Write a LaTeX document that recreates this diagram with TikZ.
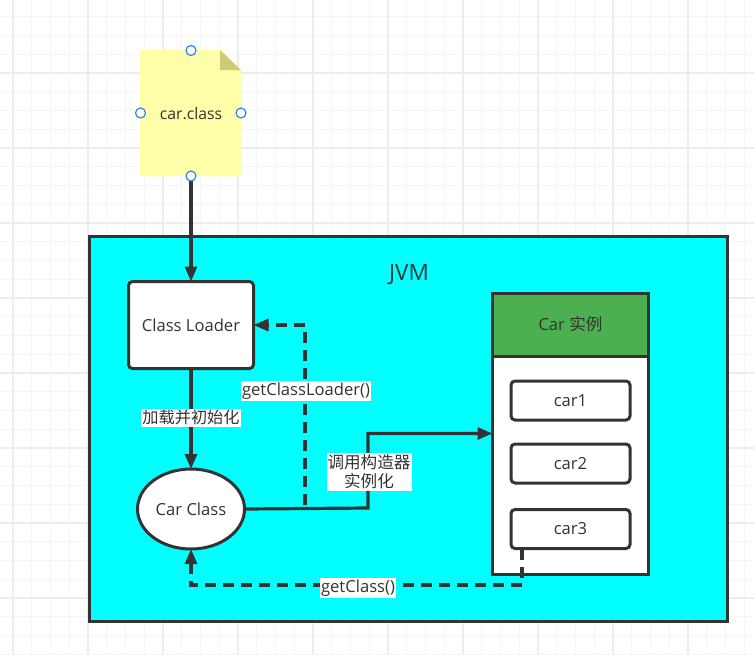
\documentclass[tikz,border=0pt]{standalone}
\usepackage{fontspec}
\setmainfont{Open Sans}
\newfontfamily\cjk{Noto Sans CJK SC}
\usetikzlibrary{arrows.meta,calc,shapes.geometric}
\definecolor{inkc}{HTML}{333333}
\definecolor{gridc}{HTML}{F5F5F5}
\definecolor{gridm}{HTML}{EDEDED}
\definecolor{notec}{HTML}{FFFFAA}
\definecolor{foldc}{HTML}{CCCC77}
\definecolor{headc}{HTML}{4CAF50}
\definecolor{handc}{HTML}{2F86F0}
\definecolor{jvmc}{HTML}{00FFFF}
\tikzset{
 x=1pt,y=-1pt,
 every node/.style={font=\fontsize{16.6}{19}\selectfont,text=inkc,inner sep=0pt,outer sep=0pt},
 solidbox/.style={draw=inkc,line width=3pt,fill=white,rounded corners=4pt,minimum width=#1},
 conn/.style={draw=inkc,line width=3.2pt,-{Triangle[length=15pt,width=12pt]}},
 dashconn/.style={conn,dash pattern=on 11pt off 7pt},
 lab/.style={fill=white,inner xsep=1pt,inner ysep=1.5pt,align=center},
 handle/.style={circle,draw=handc,line width=1.2pt,fill=white,minimum size=10pt},
}
\begin{document}
\begin{tikzpicture}
\useasboundingbox (0,0) rectangle (754,654);
\fill[white] (0,0) rectangle (754,654);
% grid
\foreach \i in {-1,...,41}{
  \pgfmathsetmacro\gx{13+18.75*\i}
  \pgfmathsetmacro\gy{-2+18.75*\i}
  \draw[gridc,line width=1pt] (\gx,0) -- (\gx,654);
  \draw[gridc,line width=1pt] (0,\gy) -- (754,\gy);
}
\foreach \i in {0,...,10}{
  \pgfmathsetmacro\gx{13+75*\i}
  \pgfmathsetmacro\gy{-2+75*\i}
  \draw[gridm,line width=1.4pt] (\gx,0) -- (\gx,654);
  \draw[gridm,line width=1.4pt] (0,\gy) -- (754,\gy);
}
% JVM
\node[draw=inkc,line width=3pt,fill=jvmc,minimum width=638pt,minimum height=385pt,anchor=north west] (jvm) at (89.5,236.5) {};
\node[font=\fontsize{22.5}{26}\selectfont] (jvmt) at (409,275) {JVM};
% note
\fill[notec] (140,50) -- (220,50) -- (241,70) -- (241,176) -- (140,176) -- cycle;
\fill[foldc] (220,50) -- (241,70) -- (220,70) -- cycle;
\coordinate (notes) at (191,176);
\node[font=\fontsize{15.8}{19}\selectfont] (note) at (191,113.5) {car.class};
% class loader, car class
\node[solidbox=125pt,minimum height=87pt] (cl) at (191,325) {Class Loader};
\node[draw=inkc,line width=3pt,fill=white,ellipse,minimum width=107pt,minimum height=80pt] (cc) at (191,509) {Car Class};
% instance list
\node[draw=inkc,line width=3pt,fill=white,minimum width=156pt,minimum height=281pt,anchor=north west] (list) at (492.5,293) {};
\node[draw=inkc,line width=3pt,fill=headc,minimum width=156pt,minimum height=63pt,anchor=north west] (head) at (492.5,293) {Car {\cjk 实例}};
\node[solidbox=119pt,minimum height=39pt] (c1) at (570.5,400.5) {car1};
\node[solidbox=119pt,minimum height=39pt] (c2) at (570.5,463.5) {car2};
\node[solidbox=119pt,minimum height=39pt] (c3) at (570.5,529) {car3};
% connectors
\coordinate (tap) at (305,505);
\coordinate (c3s) at (522,549);
\coordinate (listin) at (492.5,433.5);
\draw[conn] (notes) -- (cl.north);
\draw[conn] (cl.south) -- node[lab,pos=.49] {\fontsize{16.2}{19}\selectfont\cjk 加载并初始化} (cc.north);
\draw[dashconn] (tap) -- (305,325) -- (cl.east);
\draw[conn] (cc.east) -- (368,508) -- (368,433.5) -- (listin);
\node[lab] (lb1) at (306,391) {getClassLoader()};
\node[lab] (lb2) at (369,472) {{\cjk 调用构造器}\\{\cjk 实例化}};
\draw[dashconn] (c3s) -- (522,585) -- (191,585) -- (cc.south);
\node[lab] (lb3) at (358,588) {getClass()};
% handles
\node[handle] (h1) at (191,50.5) {};
\node[handle] (h2) at (140.5,113) {};
\node[handle] (h3) at (241,113) {};
\node[handle] (h4) at (191,176) {};
\end{tikzpicture}
\end{document}
